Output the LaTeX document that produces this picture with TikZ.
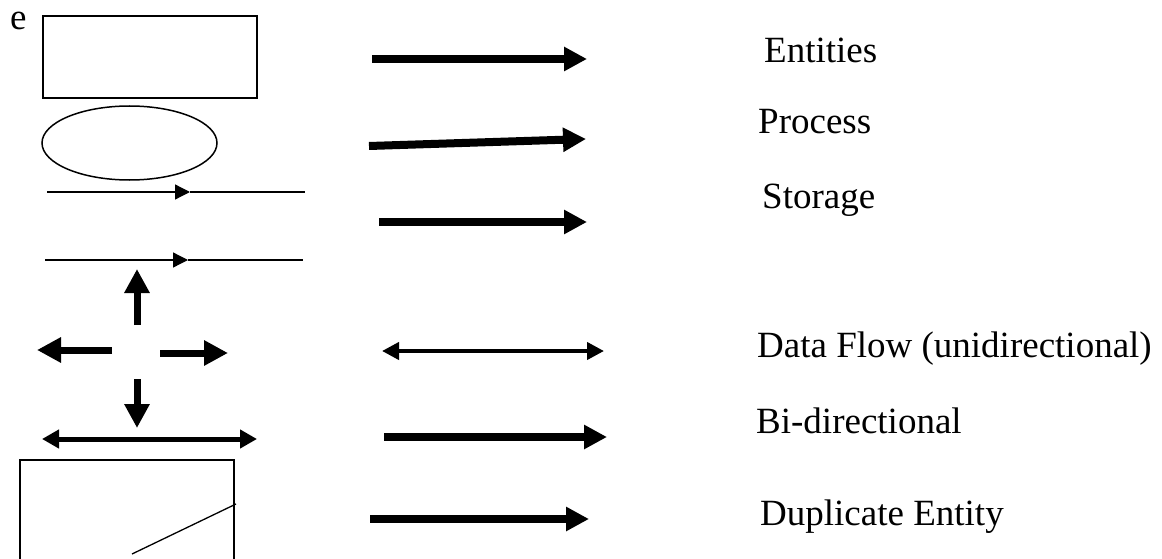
\documentclass[tikz,border=0pt]{standalone}
\usepackage{fontspec}
\setmainfont{Liberation Serif}
\usetikzlibrary{arrows.meta}
\tikzset{
  legendtext/.style={anchor=base west,inner sep=0pt,font=\fontsize{37}{40}\selectfont},
  shapeline/.style={line width=1.5pt},
  fatarrow/.style={line width=8pt,-{Triangle[length=23pt,width=23pt]}},
  fatshort/.style={line width=7pt,-{Triangle[length=24pt,width=24pt]}},
  twoway/.style={line width=5pt,{Triangle[length=17pt,width=18pt]}-{Triangle[length=17pt,width=18pt]}},
  flowline/.style={line width=1.3pt},
  flowtip/.style={line width=1.3pt,-{Triangle[length=15pt,width=15pt]}}
}
\begin{document}
\begin{tikzpicture}[x=1pt,y=-1pt]
\useasboundingbox (0,0) rectangle (1162,559);
\node[legendtext] (e) at (10,30) {e};
% Symbole links
\draw[shapeline] (43,16) rectangle (257,98);
\draw[shapeline] (129.5,143) ellipse [x radius=87.5,y radius=37];
\draw[flowtip] (47,192) -- (190,192);
\draw[flowline] (190,192) -- (305,192);
\draw[flowtip] (45,260) -- (188,260);
\draw[flowline] (188,260) -- (303,260);
\draw[line width=2pt] (123,260) -- (173,260);
\draw[fatshort] (137,325) -- (137,269);
\draw[fatshort] (112,350) -- (37,350);
\draw[fatshort] (160,353) -- (228,353);
\draw[fatshort] (137,379) -- (137,428);
\draw[twoway] (42,439) -- (257,439);
\draw[shapeline] (20,460) rectangle (234,562);
\draw[line width=1.3pt] (132,554) -- (236,504);
% Pfeile Mitte
\draw[fatarrow] (372,59) -- (587,59);
\draw[fatarrow] (369,146) -- (586,139);
\draw[fatarrow] (379,222) -- (587,222);
\draw[line width=4pt,{Triangle[length=17pt,width=17pt]}-{Triangle[length=17pt,width=17pt]}] (382,351) -- (604,351);
\draw[fatarrow] (384,437) -- (607,437);
\draw[fatarrow] (370,519) -- (589,519);
% Beschriftung
\node[legendtext] (entities) at (764,63) {Entities};
\node[legendtext] (process) at (758,134) {Process};
\node[legendtext] (storage) at (762,208) {Storage};
\node[legendtext] (dataflow) at (757,357) {Data Flow (unidirectional)};
\node[legendtext] (bidir) at (756,433) {Bi-directional};
\node[legendtext] (duplicate) at (760,525) {Duplicate Entity};
\end{tikzpicture}
\end{document}
